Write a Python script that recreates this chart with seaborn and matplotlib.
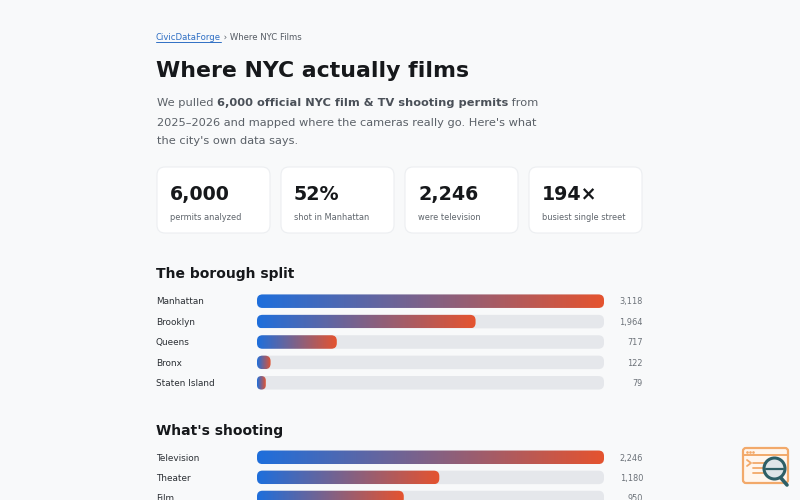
import numpy as np
import matplotlib
matplotlib.use("Agg")
import matplotlib.pyplot as plt
import seaborn as sns
from matplotlib.patches import FancyBboxPatch, Circle
from matplotlib import transforms
from matplotlib.colors import LinearSegmentedColormap

# ---------------- data ----------------
boroughs = ["Manhattan", "Brooklyn", "Queens", "Bronx", "Staten Island"]
borough_permits = [3118, 1964, 717, 122, 79]
types = ["Television", "Theater", "Film"]
type_permits = [2246, 1180, 950]
stat_values = ["6,000", "52%", "2,246", "194×"]
stat_labels = ["permits analyzed", "shot in Manhattan", "were television", "busiest single street"]

# ---------------- style ----------------
sns.set_theme(style="white")
plt.rcParams['font.family'] = ['DejaVu Sans']

W, H = 800, 500
BG = "#f8f9fa"
TRACK = "#e5e7eb"
BLUE = "#1e6fdc"
ORANGE = "#e5532f"
grad_cmap = LinearSegmentedColormap.from_list("g", [BLUE, ORANGE])

fig = plt.figure(figsize=(8, 5), dpi=100)
fig.patch.set_facecolor(BG)
page = fig.add_axes([0, 0, 1, 1])
page.set_xlim(0, W)
page.set_ylim(H, 0)
page.axis('off')
page.set_zorder(0)

def pt(pxs):
    return pxs * 0.72

renderer = fig.canvas.get_renderer()

def text_width(s, **kw):
    t1 = page.text(0, 0, s + "|", **kw)
    t2 = page.text(0, 0, "|", **kw)
    w = t1.get_window_extent(renderer).width - t2.get_window_extent(renderer).width
    t1.remove(); t2.remove()
    return w

def runs(x, y, parts, size):
    for s, weight, color in parts:
        kw = dict(fontsize=pt(size), fontweight=weight)
        page.text(x, y, s, color=color, va='baseline', ha='left', **kw)
        x += text_width(s, **kw)
    return x

# breadcrumb
bx0 = 156
bx1 = runs(bx0, 40.3, [("CivicDataForge", "normal", "#2f6fc4")], 8.5)
page.plot([bx0, bx1], [42, 42], color="#2f6fc4", lw=0.7)
runs(bx1, 40.3, [(" › Where NYC Films", "normal", "#555b63")], 8.5)

# title
page.text(156, 77, "Where NYC actually films", fontsize=pt(22), fontweight='bold',
          color="#16181b", va='baseline', ha='left')

# paragraph
PC = "#5b6168"
BC = "#4a5058"
PS = 11.4
runs(157, 106.5, [("We pulled ", "normal", PC),
                  ("6,000 official NYC film & TV shooting permits", "bold", BC),
                  (" from", "normal", PC)], PS)
runs(157, 125.5, [("2025–2026 and mapped where the cameras really go. Here's what", "normal", PC)], PS)
runs(157, 144.5, [("the city's own data says.", "normal", PC)], PS)

# stat cards
card_x0, card_w, card_gap = 157, 113, 124
for i, (v, lab) in enumerate(zip(stat_values, stat_labels)):
    x = card_x0 + i * card_gap
    page.add_patch(FancyBboxPatch((x, 167), card_w, 66,
                                  boxstyle="round,pad=0,rounding_size=8",
                                  facecolor="white", edgecolor="#eceef1", lw=0.8))
    page.text(x + 13, 200, v, fontsize=pt(19), fontweight='bold', color="#16181b",
              va='baseline', ha='left')
    page.text(x + 13, 219.5, lab, fontsize=pt(8.3), color="#5f656c",
              va='baseline', ha='left')

# section titles
page.text(156, 278, "The borough split", fontsize=pt(13.9), fontweight='bold',
          color="#16181b", va='baseline', ha='left')
page.text(156, 434.5, "What's shooting", fontsize=pt(13.9), fontweight='bold',
          color="#16181b", va='baseline', ha='left')

# ---------------- bar charts ----------------
BAR_X0, BAR_X1 = 257, 604
BAR_H = 13.5
RADIUS = 5.5

def bar_block(cats, vals, first_center, row_px):
    n = len(cats)
    top = first_center - row_px / 2
    bottom = top + n * row_px
    ax = fig.add_axes([BAR_X0 / W, 1 - bottom / H, (BAR_X1 - BAR_X0) / W, (bottom - top) / H])
    ax.set_zorder(1)
    vmax = max(vals)
    width = BAR_H / row_px
    sns.barplot(x=[vmax] * n, y=cats, color=TRACK, width=width, ax=ax, saturation=1)
    sns.barplot(x=vals, y=cats, color=BLUE, width=width, ax=ax, saturation=1)
    ax.set_xlim(0, vmax)
    ax.set_ylim(n - 0.5, -0.5)
    ax.axis('off')
    ax.patch.set_alpha(0)
    xpx = (BAR_X1 - BAR_X0) / vmax
    patches = list(ax.patches)
    for k, p in enumerate(patches):
        x0, y0 = p.get_x(), p.get_y()
        w, h = p.get_width(), p.get_height()
        p.set_visible(False)
        wpx, hpx = w * xpx, h * row_px
        r = min(RADIUS, wpx / 2, hpx / 2)
        rx = r / xpx
        ry = r / row_px
        is_track = k < n
        box = FancyBboxPatch((x0, y0), w, h,
                             boxstyle=f"round,pad=0,rounding_size={rx}",
                             mutation_aspect=ry / rx,
                             facecolor=TRACK if is_track else "none",
                             edgecolor="none", lw=0, zorder=2)
        ax.add_patch(box)
        if not is_track:
            grad = np.linspace(0, 1, 256).reshape(1, -1)
            im = ax.imshow(grad, cmap=grad_cmap, aspect='auto',
                           extent=[x0, x0 + w, y0 + h, y0], zorder=3,
                           interpolation='bilinear')
            im.set_clip_path(box)
    ax.set_xlim(0, vmax)
    ax.set_ylim(n - 0.5, -0.5)
    tr = transforms.blended_transform_factory(page.transData, ax.transData)
    off = 3.2 / row_px
    for i, (c, v) in enumerate(zip(cats, vals)):
        ax.text(156, i + off, c, transform=tr, fontsize=pt(8.9), color="#2b2f34",
                va='baseline', ha='left', clip_on=False)
        ax.text(643, i + off, f"{v:,}", transform=tr, fontsize=pt(8.2), color="#6b7178",
                va='baseline', ha='right', clip_on=False)
    return ax

bar_block(boroughs, borough_permits, 301.2, 20.4)
bar_block(types, type_permits, 457.3, 20.1)

# ---------------- corner icon ----------------
OR = "#f2a96a"
TEAL = "#2e5f66"
page.add_patch(FancyBboxPatch((743, 448), 45, 35, boxstyle="round,pad=0,rounding_size=3",
                              facecolor="#fff6ee", edgecolor=OR, lw=1.6, zorder=5))
page.plot([743, 788], [455, 455], color=OR, lw=1.4, zorder=6)
for dx in (747, 750, 753):
    page.plot([dx], [451.5], marker='o', ms=0.9, color=OR, zorder=6)
page.plot([747, 751, 747], [460, 463, 466], color=OR, lw=1.3, zorder=6)
for yy in (463, 468, 473):
    page.plot([753, 768], [yy, yy], color=OR, lw=1.3, zorder=6)
page.plot([781, 787], [478, 485], color=TEAL, lw=2.6, solid_capstyle='round', zorder=7)
page.add_patch(Circle((774.5, 468.5), 10.5, facecolor="#dfe5e8", edgecolor=TEAL, lw=2.2, zorder=7))
page.plot([766, 783], [468.5, 468.5], color=TEAL, lw=1.6, zorder=8)

fig.savefig("out.png", dpi=100, facecolor=BG)
